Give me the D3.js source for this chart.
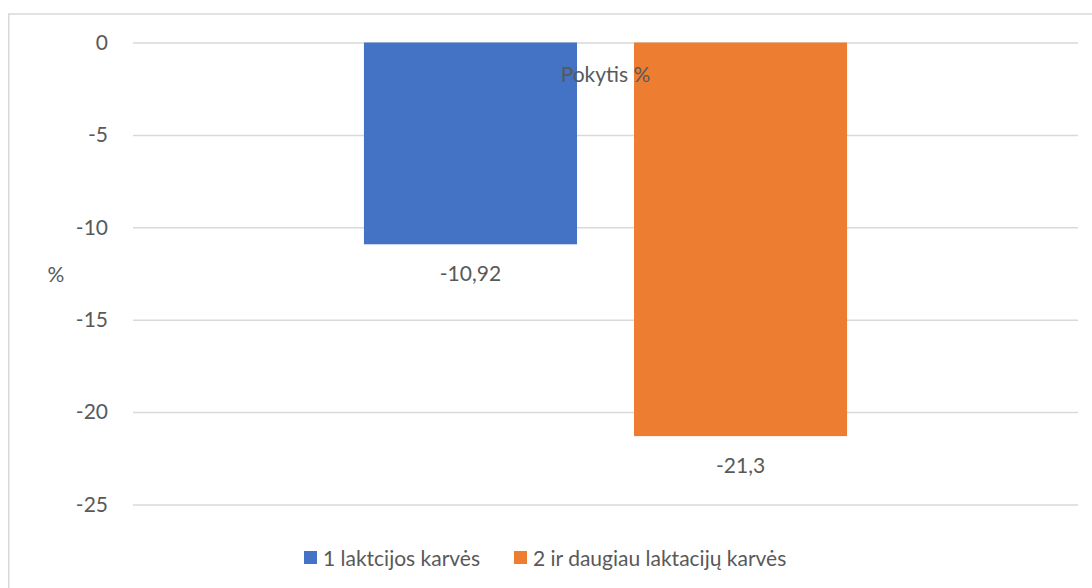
<!DOCTYPE html>
<html>
<head>
<meta charset="utf-8">
<script src="https://cdn.jsdelivr.net/npm/d3@7"></script>
<style>
  html, body { margin: 0; padding: 0; background: #fff; }
  svg { display: block; }
  text { font-family: Lato, "Liberation Sans", sans-serif; fill: #595959; }
</style>
</head>
<body>
<svg id="chart" width="1092" height="588"></svg>
<script>
const categories = ["Pokytis %"];
const seriesNames = ["1 laktcijos karvės", "2 ir daugiau laktacijų karvės"];
const seriesValues = [-10.92, -21.3];
const seriesColors = ["#4472C4", "#ED7D31"];
const yTicks = [0, -5, -10, -15, -20, -25];
const yAxisTitle = "%";
const chartTitle = "Pokytis %";

const W = 1092, H = 588;
const plot = { left: 133, right: 1078, top: 42.5, bottom: 504.5 };
const fs = 21;

const svg = d3.select("#chart");

// chart border (extends beyond the view)
svg.append("rect")
  .attr("x", 8.75).attr("y", 14).attr("width", 1200).attr("height", 700)
  .attr("fill", "none").attr("stroke", "#d9d9d9").attr("stroke-width", 1.5);

const y = d3.scaleLinear().domain([-25, 0]).range([plot.bottom, plot.top]);

const x0 = d3.scaleBand().domain(categories)
  .range([plot.left, plot.right]).paddingInner(0).paddingOuter(0.478);
const x1 = d3.scaleBand().domain(seriesNames)
  .range([0, x0.bandwidth()]).paddingInner(0.2111).paddingOuter(0);

// gridlines + y axis labels
const yAxis = d3.axisLeft(y).tickValues(yTicks)
  .tickSize(-(plot.right - plot.left)).tickPadding(25)
  .tickFormat(d => String(d));
const gy = svg.append("g").attr("transform", `translate(${plot.left},0)`).call(yAxis);
gy.select(".domain").remove();
gy.selectAll(".tick line").attr("stroke", "#d9d9d9").attr("stroke-width", 1.5);
gy.selectAll(".tick text").style("font-size", fs + "px")
  .style("font-family", "Lato, 'Liberation Sans', sans-serif").attr("fill", "#595959");

// bars
const data = seriesNames.map((s, i) => ({ series: s, value: seriesValues[i], color: seriesColors[i] }));
const g = svg.append("g").attr("transform", `translate(${x0(categories[0])},0)`);
g.selectAll("rect.bar").data(data).enter().append("rect")
  .attr("class", "bar")
  .attr("x", d => x1(d.series))
  .attr("width", x1.bandwidth())
  .attr("y", d => y(Math.max(0, d.value)))
  .attr("height", d => Math.abs(y(d.value) - y(0)))
  .attr("fill", d => d.color);

// data labels
g.selectAll("text.lbl").data(data).enter().append("text")
  .attr("class", "lbl")
  .attr("x", d => x1(d.series) + x1.bandwidth() / 2)
  .attr("y", d => y(d.value) + 28.5)
  .attr("text-anchor", "middle")
  .attr("dominant-baseline", "central")
  .style("font-size", fs + "px")
  .text(d => String(d.value).replace(".", ","));

// y axis title
svg.append("text")
  .attr("x", 56).attr("y", (plot.top + plot.bottom) / 2)
  .attr("text-anchor", "middle").attr("dominant-baseline", "central")
  .style("font-size", fs + "px").text(yAxisTitle);

// legend
const legend = svg.append("g");
const legendX = [304, 514];
data.forEach((d, i) => {
  const lg = legend.append("g").attr("transform", `translate(${legendX[i]},551)`);
  lg.append("rect").attr("width", 13).attr("height", 13).attr("fill", d.color);
  lg.append("text").attr("x", 19).attr("y", 6.5)
    .attr("dominant-baseline", "central")
    .style("font-size", fs + "px").text(d.series);
});

// chart title (drawn on top)
svg.append("text")
  .attr("x", (plot.left + plot.right) / 2).attr("y", 73)
  .attr("text-anchor", "middle").attr("dominant-baseline", "central")
  .style("font-size", fs + "px").text(chartTitle);
</script>
</body>
</html>
